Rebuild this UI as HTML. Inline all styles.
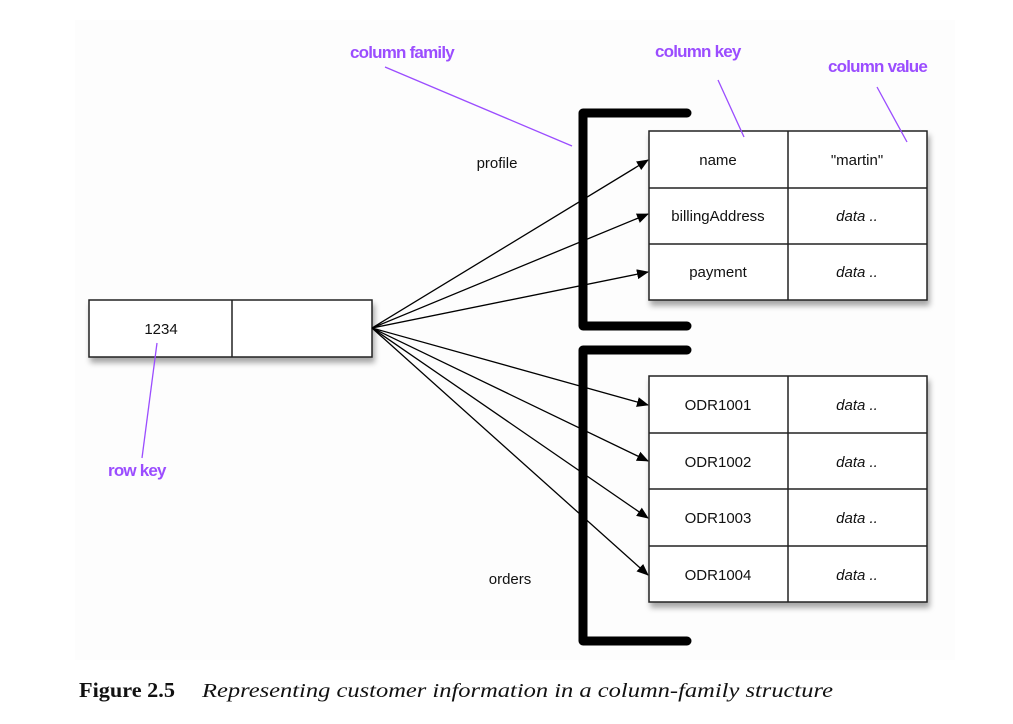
<!DOCTYPE html>
<html><head><meta charset="utf-8"><style>
body{margin:0;background:#fff;}
svg{display:block}
.t{font-family:"Liberation Sans",sans-serif;font-size:15px;fill:#111}
.i{font-style:italic}
.p{font-family:"Liberation Sans",sans-serif;font-size:17px;font-weight:bold;fill:#9b4dff;letter-spacing:-0.8px}
</style></head><body>
<svg width="1013" height="724" viewBox="0 0 1013 724" xmlns="http://www.w3.org/2000/svg">
<defs>
<marker id="a" markerWidth="12" markerHeight="10" refX="11" refY="5" orient="auto" markerUnits="userSpaceOnUse"><path d="M0,0 L12,5 L0,10 z" fill="#000"/></marker>
<filter id="s" x="-10%" y="-10%" width="130%" height="140%"><feDropShadow dx="2" dy="5" stdDeviation="3" flood-opacity="0.35"/></filter>
</defs>
<rect x="75" y="20" width="880" height="640" fill="#fdfdfd"/>
<rect x="89" y="300" width="283" height="57" fill="#fff" stroke="#222" stroke-width="1.5" filter="url(#s)"/>
<line x1="232" y1="300" x2="232" y2="357" stroke="#222" stroke-width="1.5"/>
<text class="t" x="161" y="334" text-anchor="middle">1234</text>
<path d="M687,113 H583 V326 H687" fill="none" stroke="#000" stroke-width="9" stroke-linecap="round" stroke-linejoin="round"/>
<path d="M687,350 H583 V641 H687" fill="none" stroke="#000" stroke-width="9" stroke-linecap="round" stroke-linejoin="round"/>
<g stroke="#000" stroke-width="1.3" marker-end="url(#a)">
<line x1="372" y1="328" x2="648" y2="160"/>
<line x1="372" y1="328" x2="648" y2="214"/>
<line x1="372" y1="328" x2="648" y2="272"/>
<line x1="372" y1="328" x2="648" y2="405"/>
<line x1="372" y1="328" x2="648" y2="461"/>
<line x1="372" y1="328" x2="648" y2="518"/>
<line x1="372" y1="328" x2="648" y2="575"/>
</g>
<rect x="649" y="131" width="278" height="169" fill="#fff" stroke="#222" stroke-width="1.5" filter="url(#s)"/>
<g stroke="#222" stroke-width="1.5"><line x1="788" y1="131" x2="788" y2="300"/><line x1="649" y1="188" x2="927" y2="188"/><line x1="649" y1="244" x2="927" y2="244"/></g>
<text class="t" x="718" y="165" text-anchor="middle">name</text>
<text class="t" x="857" y="165" text-anchor="middle">"martin"</text>
<text class="t" x="718" y="221" text-anchor="middle">billingAddress</text>
<text class="t i" x="857" y="221" text-anchor="middle">data ..</text>
<text class="t" x="718" y="277" text-anchor="middle">payment</text>
<text class="t i" x="857" y="277" text-anchor="middle">data ..</text>
<rect x="649" y="376" width="278" height="226" fill="#fff" stroke="#222" stroke-width="1.5" filter="url(#s)"/>
<g stroke="#222" stroke-width="1.5"><line x1="788" y1="376" x2="788" y2="602"/><line x1="649" y1="433" x2="927" y2="433"/><line x1="649" y1="489" x2="927" y2="489"/><line x1="649" y1="546" x2="927" y2="546"/></g>
<text class="t" x="718" y="410" text-anchor="middle">ODR1001</text>
<text class="t i" x="857" y="410" text-anchor="middle">data ..</text>
<text class="t" x="718" y="467" text-anchor="middle">ODR1002</text>
<text class="t i" x="857" y="467" text-anchor="middle">data ..</text>
<text class="t" x="718" y="523" text-anchor="middle">ODR1003</text>
<text class="t i" x="857" y="523" text-anchor="middle">data ..</text>
<text class="t" x="718" y="580" text-anchor="middle">ODR1004</text>
<text class="t i" x="857" y="580" text-anchor="middle">data ..</text>
<text class="t" x="497" y="168" text-anchor="middle">profile</text>
<text class="t" x="510" y="584" text-anchor="middle">orders</text>
<g stroke="#9b4dff" stroke-width="1.3">
<line x1="385" y1="67" x2="572" y2="146"/>
<line x1="718" y1="80" x2="744" y2="137"/>
<line x1="877" y1="87" x2="907" y2="142"/>
<line x1="157" y1="343" x2="142" y2="458"/>
</g>
<text class="p" x="350" y="58">column family</text>
<text class="p" x="655" y="57">column key</text>
<text class="p" x="828" y="72">column value</text>
<text class="p" x="108" y="476">row key</text>
<text x="79" y="697" font-family="'Liberation Serif',serif" font-size="21" font-weight="bold" fill="#111" textLength="96" lengthAdjust="spacingAndGlyphs">Figure 2.5</text>
<text x="202" y="697" font-family="'Liberation Serif',serif" font-size="20" font-style="italic" fill="#111" textLength="631" lengthAdjust="spacingAndGlyphs">Representing customer information in a column-family structure</text>
</svg>
</body></html>
